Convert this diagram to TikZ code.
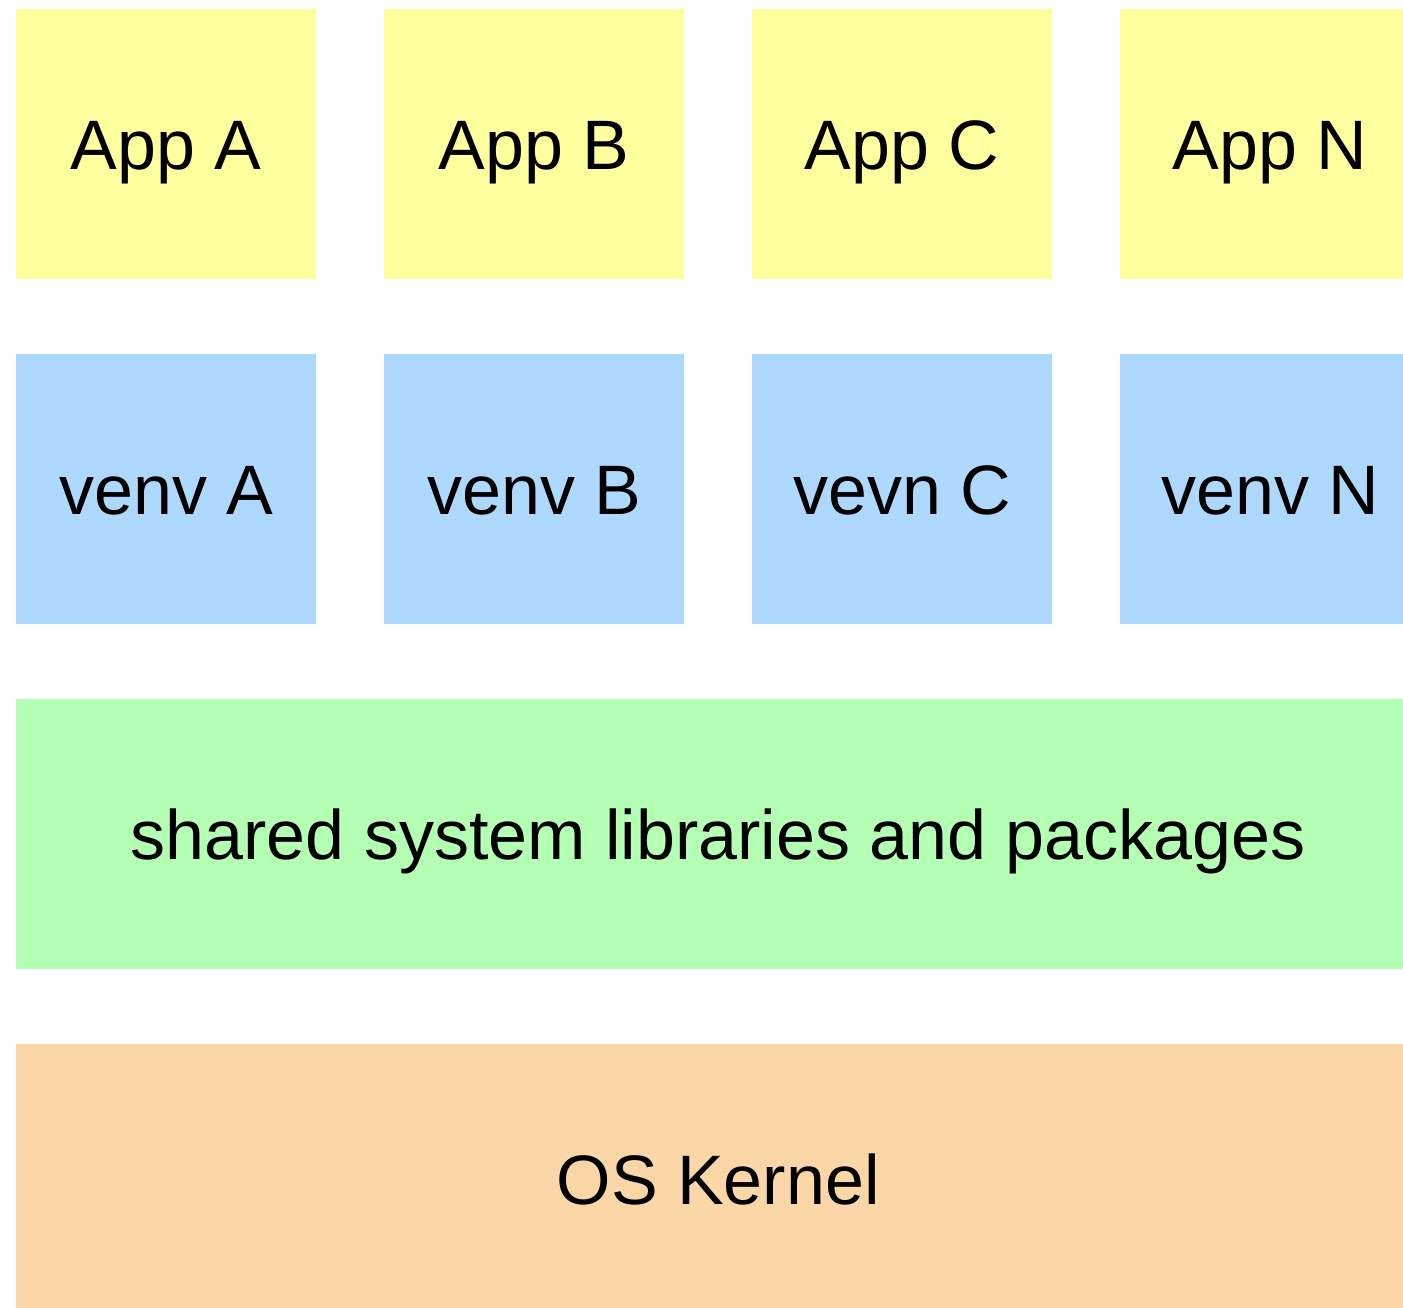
\documentclass[tikz,border=0pt]{standalone}
\usepackage{fontspec}
\setmainfont{Liberation Sans}
\definecolor{appyellow}{HTML}{FFFFA0}
\definecolor{venvblue}{HTML}{AED8FE}
\definecolor{libgreen}{HTML}{B4FFB4}
\definecolor{kernorange}{HTML}{FBD7A8}
\begin{document}
\begin{tikzpicture}[x=1pt,y=-1pt,
		layer/.style={fill=#1,draw=none,inner sep=0pt,anchor=north west,minimum height=270pt,
			text height=50pt,text depth=0pt,font=\fontsize{70}{84}\selectfont}]
	\clip (0,0) rectangle (1403,1308);
	\foreach \n/\x/\t in {a/16/App A,b/384/App B,c/752/App C,n/1120/App N}{
		\node[layer=appyellow,minimum width=300pt] (app\n) at (\x,9) {\t};%apps
	}
	\foreach \n/\x/\t in {a/16/venv A,b/384/venv B,c/752/vevn C,n/1120/venv N}{
		\node[layer=venvblue,minimum width=300pt] (venv\n) at (\x,354) {\t};%venvs
	}
	\node[layer=libgreen,minimum width=1404pt] (libs) at (16,699) {shared system libraries and packages};
	\node[layer=kernorange,minimum width=1404pt] (kernel) at (16,1044) {OS Kernel};
\end{tikzpicture}
\end{document}
